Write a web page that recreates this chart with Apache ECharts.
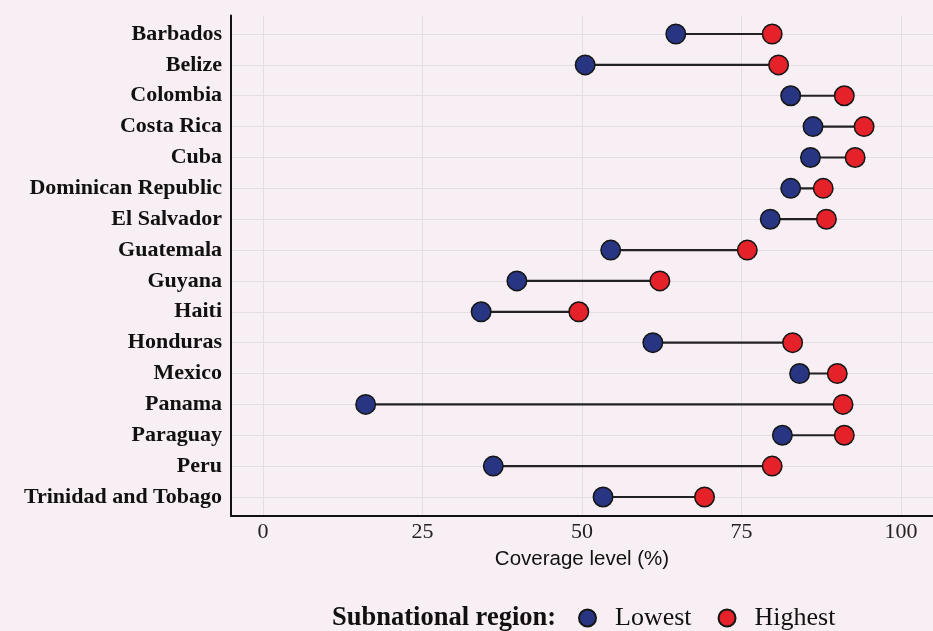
<!DOCTYPE html>
<html>
<head>
<meta charset="utf-8">
<script src="https://cdn.jsdelivr.net/npm/echarts@6/dist/echarts.min.js"></script>
<style>
html,body{margin:0;padding:0;background:#f7eff3;}
#c{width:933px;height:631px;}
</style>
</head>
<body>
<div id="c"></div>
<script>
const countries = ["Barbados","Belize","Colombia","Costa Rica","Cuba","Dominican Republic","El Salvador","Guatemala","Guyana","Haiti","Honduras","Mexico","Panama","Paraguay","Peru","Trinidad and Tobago"];
const lowest  = [64.7, 50.5, 82.7, 86.2, 85.8, 82.7, 79.5, 54.5, 39.8, 34.2, 61.1, 84.1, 16.1, 81.4, 36.1, 53.3];
const highest = [79.8, 80.8, 91.1, 94.2, 92.8, 87.8, 88.3, 75.9, 62.2, 49.5, 83.0, 90.0, 90.9, 91.1, 79.8, 69.2];
const xTicks = [0, 25, 50, 75, 100];

const idx = countries.map((_, i) => i);
const chart = echarts.init(document.getElementById('c'));
const serif = '"Liberation Serif", "DejaVu Serif", serif';
const blue = '#283583', red = '#e52229';

chart.setOption({
  backgroundColor: '#f7eff3',
  animation: false,
  grid: {left: 231, top: 15.5, width: 704, height: 500, containLabel: false},
  xAxis: {
    type: 'value', min: -5, max: 105,
    name: 'Coverage level (%)', nameLocation: 'middle', nameGap: 31,
    nameTextStyle: {fontFamily: '"Liberation Sans", Arial, sans-serif', fontSize: 20.5, color: '#111'},
    axisLine: {show: true, onZero: false, lineStyle: {color: '#111', width: 2}},
    axisTick: {show: false, customValues: xTicks},
    axisLabel: {customValues: xTicks, margin: 6, fontFamily: serif, fontSize: 22, color: '#222'},
    splitLine: {show: true, lineStyle: {color: '#e4dde1', width: 1}}
  },
  yAxis: {
    type: 'value', inverse: true, min: -0.6, max: 15.6,
    axisLine: {show: true, onZero: false, lineStyle: {color: '#111', width: 2}},
    axisTick: {show: false, customValues: idx},
    axisLabel: {customValues: idx, margin: 9, fontFamily: serif, fontWeight: 'bold', fontSize: 22, color: '#111',
      formatter: v => countries[Math.round(v)] || ''},
    splitLine: {show: true, lineStyle: {color: '#e4dde1', width: 1}}
  },
  legend: {
    data: ['Lowest', 'Highest'], left: 573, top: 600, itemWidth: 17, itemHeight: 17, itemGap: 26,
    icon: 'circle',
    textStyle: {fontFamily: serif, fontSize: 26, color: '#111', padding: [0, 0, 0, 14]}
  },
  graphic: [{
    type: 'text', left: 332, top: 605,
    style: {text: 'Subnational region:', font: 'bold 26.5px ' + serif, fill: '#111'}
  }],
  series: [
    {
      type: 'custom', name: 'seg', silent: true, z: 1,
      data: idx.map(i => [lowest[i], highest[i], i]),
      renderItem: (params, api) => {
        const a = api.coord([api.value(0), api.value(2)]);
        const b = api.coord([api.value(1), api.value(2)]);
        return {type: 'line', shape: {x1: a[0], y1: a[1], x2: b[0], y2: b[1]}, style: {stroke: '#222', lineWidth: 2.2}};
      }
    },
    {
      type: 'scatter', name: 'Lowest', z: 3, symbolSize: 19.5,
      data: idx.map(i => [lowest[i], i]),
      itemStyle: {color: blue, borderColor: '#151515', borderWidth: 1.5, opacity: 1}
    },
    {
      type: 'scatter', name: 'Highest', z: 3, symbolSize: 19.5,
      data: idx.map(i => [highest[i], i]),
      itemStyle: {color: red, borderColor: '#151515', borderWidth: 1.5, opacity: 1}
    }
  ]
});
</script>
</body>
</html>
